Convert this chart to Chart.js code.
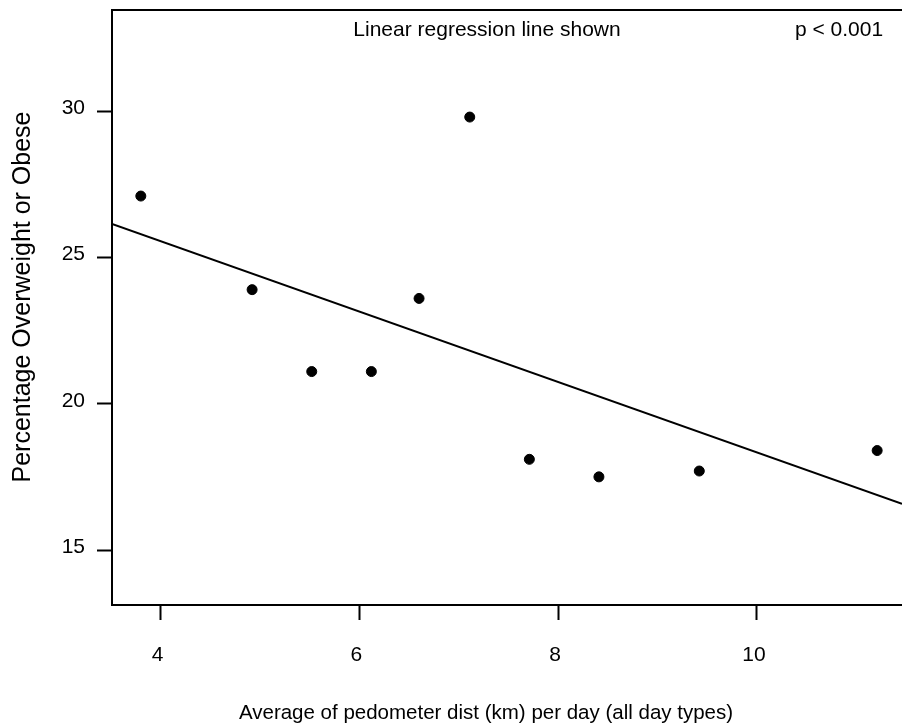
<!DOCTYPE html>
<html>
<head>
<meta charset="utf-8">
<script src="https://cdn.jsdelivr.net/npm/chart.js@4.4.1/dist/chart.umd.min.js"></script>
<style>
  html, body { margin: 0; padding: 0; background: #fff; }
  #wrap { width: 902px; height: 728px; }
</style>
</head>
<body>
<div id="wrap"><canvas id="myChart" width="902" height="728"></canvas></div>
<script>
// values
const distKm = [3.80, 4.92, 5.52, 6.12, 6.60, 7.11, 7.71, 8.41, 9.42, 11.21];
const pctOverweight = [27.1, 23.9, 21.1, 21.1, 23.6, 29.8, 18.1, 17.5, 17.7, 18.4];
// regression line as drawn (ends at plot edges)
const lineX = [3.51, 11.46];
const lineY = [26.15, 16.58];
const xTicks = [4, 6, 8, 10];
const yTicks = [15, 20, 25, 30];
const noteLeft = "Linear regression line shown";
const noteRight = "p < 0.001";
const xTitle = "Average of pedometer dist (km) per day (all day types)";
const yTitle = "Percentage Overweight or Obese";

const fontFamily = "'Liberation Sans', Arial, sans-serif";

// frame top line, notes and axis titles (placed like the original)
const boxPlugin = {
  id: "box",
  afterDraw(chart) {
    const { ctx, chartArea } = chart;
    ctx.save();
    ctx.strokeStyle = "#000";
    ctx.lineWidth = 2;
    ctx.beginPath();
    ctx.moveTo(chartArea.left, chartArea.top);
    ctx.lineTo(chartArea.right, chartArea.top);
    ctx.stroke();
    ctx.fillStyle = "#000";
    ctx.textAlign = "center";
    ctx.textBaseline = "middle";
    ctx.font = "21px " + fontFamily;
    ctx.fillText(noteLeft, 487, 30);
    ctx.fillText(noteRight, 839, 30);
    ctx.font = "20.5px " + fontFamily;
    ctx.fillText(xTitle, 486, 713);
    ctx.translate(23, 297);
    ctx.rotate(-Math.PI / 2);
    ctx.font = "25px " + fontFamily;
    ctx.fillText(yTitle, 0, 0);
    ctx.restore();
  },
};

const ctx = document.getElementById("myChart");
new Chart(ctx, {
  type: "scatter",
  data: {
    datasets: [
      {
        label: "points",
        data: distKm.map((x, i) => ({ x: x, y: pctOverweight[i] })),
        backgroundColor: "#000",
        borderColor: "#000",
        pointRadius: 5,
      },
      {
        label: "fit",
        type: "line",
        data: lineX.map((x, i) => ({ x: x, y: lineY[i] })),
        borderColor: "#000",
        borderWidth: 2,
        pointRadius: 0,
        fill: false,
      },
    ],
  },
  options: {
    responsive: false,
    animation: false,
    layout: {
      autoPadding: false,
      padding: { top: 10, right: 0, left: 0, bottom: 0 },
    },
    plugins: {
      legend: { display: false },
      tooltip: { enabled: false },
    },
    scales: {
      x: {
        type: "linear",
        min: 3.51,
        max: 11.46,
        afterBuildTicks: (scale) => {
          scale.ticks = xTicks.map((v) => ({ value: v }));
        },
        afterFit: (scale) => {
          scale.height = 123;
          scale.paddingLeft = 0;
          scale.paddingRight = 0;
        },
        grid: {
          drawOnChartArea: false,
          tickLength: 15,
          tickColor: "#000",
          tickWidth: 2,
        },
        border: { color: "#000", width: 2 },
        ticks: {
          color: "#000",
          padding: 23,
          labelOffset: -3,
          font: { family: fontFamily, size: 21 },
          maxRotation: 0,
        },
      },
      y: {
        type: "linear",
        min: 13.12,
        max: 33.46,
        afterBuildTicks: (scale) => {
          scale.ticks = yTicks.map((v) => ({ value: v }));
        },
        afterFit: (scale) => {
          scale.width = 112;
          scale.paddingTop = 0;
          scale.paddingBottom = 0;
        },
        grid: {
          drawOnChartArea: false,
          tickLength: 15,
          tickColor: "#000",
          tickWidth: 2,
        },
        border: { color: "#000", width: 2 },
        ticks: {
          color: "#000",
          padding: 12,
          labelOffset: -3,
          font: { family: fontFamily, size: 21 },
        },
      },
    },
  },
  plugins: [boxPlugin],
});
</script>
</body>
</html>
